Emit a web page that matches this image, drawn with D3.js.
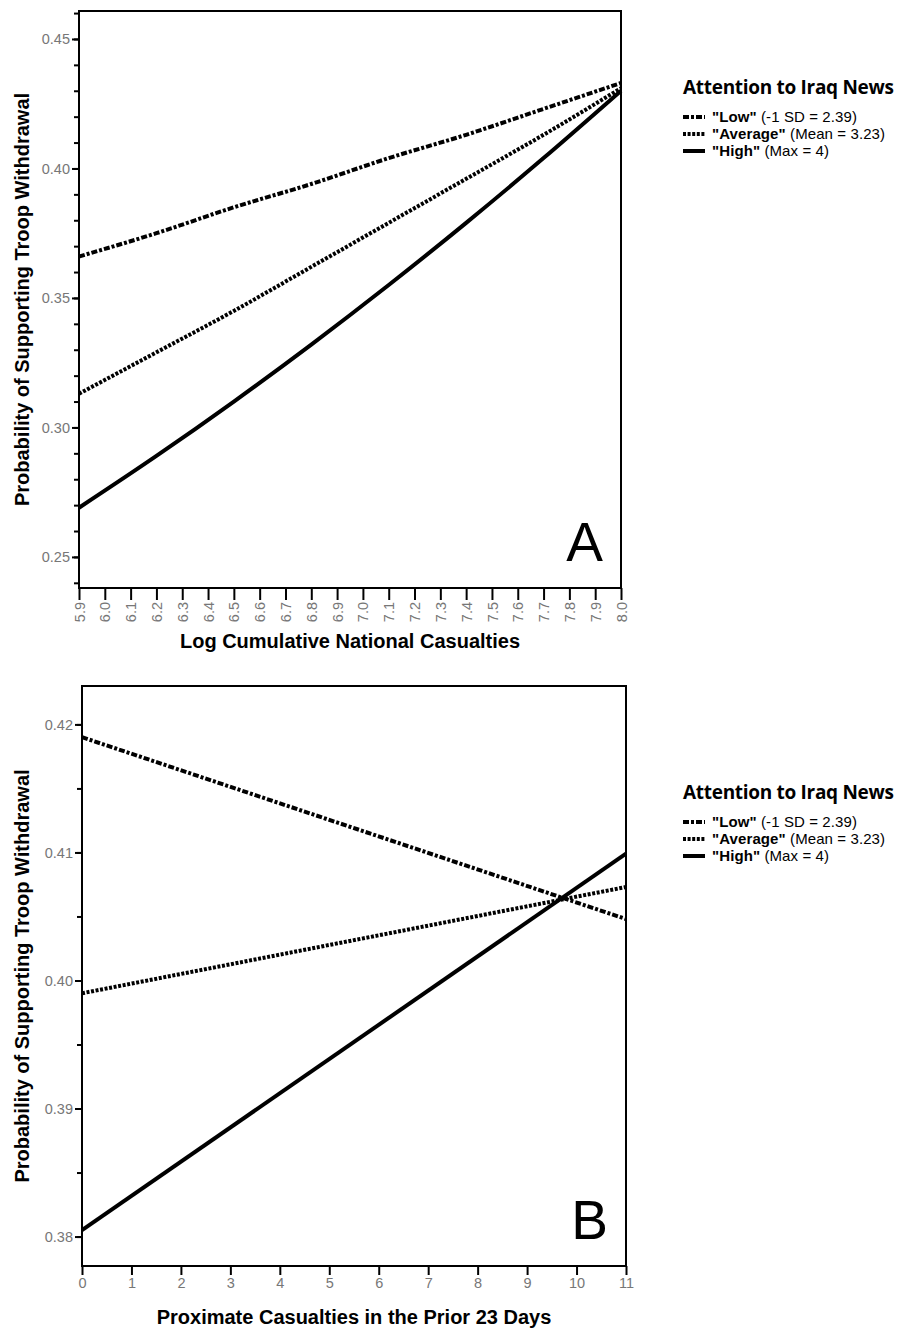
<!DOCTYPE html>
<html>
<head>
<meta charset="utf-8">
<script src="https://cdn.jsdelivr.net/npm/d3@7"></script>
<style>
  body { margin: 0; background: #fff; }
  svg { display: block; }
</style>
</head>
<body>
<div id="chart"></div>
<script>
// Panel A: log cumulative national casualties
var casualtiesA = [5.9, 6.2, 6.5, 6.8, 7.1, 7.4, 7.7, 8.0];
var lowA = [0.366, 0.375, 0.385, 0.394, 0.404, 0.413, 0.423, 0.433];
var averageA = [0.313, 0.329, 0.345, 0.362, 0.379, 0.396, 0.413, 0.431];
var highA = [0.269, 0.289, 0.310, 0.332, 0.355, 0.379, 0.404, 0.430];
var xTicksA = d3.range(59, 81).map(function (d) { return d / 10; });
var yTicksA = [0.25, 0.30, 0.35, 0.40, 0.45];

// Panel B: proximate casualties in the prior 23 days
var casualtiesB = [0, 11];
var lowB = [0.4190, 0.4048];
var averageB = [0.3990, 0.4073];
var highB = [0.3805, 0.4099];
var xTicksB = d3.range(0, 12);
var yTicksB = [0.38, 0.39, 0.40, 0.41, 0.42];

var legendTitle = "Attention to Iraq News";
var legendNames = ['"Low"', '"Average"', '"High"'];
var legendNotes = ['(-1 SD = 2.39)', '(Mean = 3.23)', '(Max = 4)'];
var yTitle = "Probability of Supporting Troop Withdrawal";

var dashes = ["6,2,3,2", "3,1.6", null];

var width = 913, height = 1331;
var svg = d3.select("#chart").append("svg").attr("width", width).attr("height", height);

var tickFont = "14.5px 'Liberation Sans', Arial, sans-serif";
var titleFont = "bold 20px 'Liberation Sans', Arial, sans-serif";

function drawPanel(opt) {
  var x = d3.scaleLinear().domain(opt.xDomain).range([opt.left, opt.right]);
  var y = d3.scaleLinear().domain(opt.yDomain).range([opt.bottom, opt.top]);
  var g = svg.append("g");

  // frame
  g.append("rect")
    .attr("x", opt.left).attr("y", opt.top)
    .attr("width", opt.right - opt.left).attr("height", opt.bottom - opt.top)
    .attr("fill", "none").attr("stroke", "#000").attr("stroke-width", 2);

  // y axis: minor ticks + labelled majors
  var yAxis = g.append("g").attr("transform", "translate(" + opt.left + ",0)")
    .call(d3.axisLeft(y).tickValues(opt.yMinor).tickSize(5).tickFormat(""));
  yAxis.select(".domain").remove();
  yAxis.selectAll("line").attr("stroke-width", 2);

  var yMajor = g.append("g").attr("transform", "translate(" + opt.left + ",0)")
    .call(d3.axisLeft(y).tickValues(opt.yTicks).tickSize(7).tickPadding(2).tickFormat(d3.format(".2f")));
  yMajor.select(".domain").remove();
  yMajor.selectAll("line").attr("stroke-width", 2);
  yMajor.selectAll("text").attr("fill", "#777").style("font", tickFont);

  // x axis
  var xAxis = g.append("g").attr("transform", "translate(0," + opt.bottom + ")")
    .call(d3.axisBottom(x).tickValues(opt.xTicks).tickSize(opt.xTickSize).tickFormat(opt.xFormat));
  xAxis.select(".domain").remove();
  xAxis.selectAll("line").attr("stroke-width", 2);
  var xt = xAxis.selectAll("text").attr("fill", "#777").style("font", tickFont);
  if (opt.rotateX) {
    xt.attr("transform", "rotate(-90)")
      .attr("x", -(opt.xTickSize + 2)).attr("y", 0).attr("dy", "0.35em")
      .attr("text-anchor", "end");
  }

  // series
  var line = d3.line()
    .x(function (d) { return x(d[0]); })
    .y(function (d) { return y(d[1]); })
    .curve(d3.curveMonotoneX);
  opt.series.forEach(function (s, i) {
    g.append("path")
      .datum(opt.xs.map(function (v, j) { return [v, s[j]]; }))
      .attr("d", line)
      .attr("fill", "none")
      .attr("stroke", "#000")
      .attr("stroke-width", 4)
      .attr("stroke-dasharray", dashes[i]);
  });

  // big panel letter
  g.append("text")
    .attr("x", opt.right - 18).attr("y", opt.bottom - 27)
    .attr("text-anchor", "end")
    .style("font", "55px 'Liberation Sans', Arial, sans-serif")
    .text(opt.letter);

  // axis titles
  g.append("text")
    .attr("x", (opt.left + opt.right) / 2).attr("y", opt.xTitleY)
    .attr("text-anchor", "middle")
    .style("font", titleFont)
    .text(opt.xTitle);
  g.append("text")
    .attr("transform", "translate(29," + ((opt.top + opt.bottom) / 2) + ") rotate(-90)")
    .attr("text-anchor", "middle")
    .style("font", titleFont)
    .text(yTitle);

  // legend
  var lg = svg.append("g").attr("transform", "translate(683," + opt.legendY + ")");
  lg.append("text")
    .style("font", "bold 19px 'Open Sans', sans-serif")
    .attr("letter-spacing", "-0.3")
    .text(legendTitle);
  legendNames.forEach(function (name, i) {
    var yy = 28 + i * 17;
    lg.append("line")
      .attr("x1", 0).attr("x2", 22).attr("y1", yy - 5).attr("y2", yy - 5)
      .attr("stroke", "#000").attr("stroke-width", 4)
      .attr("stroke-dasharray", dashes[i]);
    var t = lg.append("text").attr("x", 29).attr("y", yy)
      .style("font", "15px 'Liberation Sans', Arial, sans-serif")
      .attr("letter-spacing", "0.1");
    t.append("tspan").attr("font-weight", "bold").text(name + " ");
    t.append("tspan").text(legendNotes[i]);
  });
}

drawPanel({
  left: 79, right: 621, top: 11, bottom: 588,
  xDomain: [5.9, 8.0], yDomain: [0.238, 0.4608],
  xTicks: xTicksA, xTickSize: 12, rotateX: true, xFormat: d3.format(".1f"),
  yTicks: yTicksA, yMinor: d3.range(24, 47).map(function (d) { return d / 100; }),
  xs: casualtiesA, series: [lowA, averageA, highA],
  letter: "A", xTitle: "Log Cumulative National Casualties", xTitleY: 648,
  legendY: 94
});

drawPanel({
  left: 82, right: 626, top: 686, bottom: 1266,
  xDomain: [0, 11], yDomain: [0.3777, 0.4230],
  xTicks: xTicksB, xTickSize: 9, rotateX: false, xFormat: d3.format("d"),
  yTicks: yTicksB, yMinor: d3.range(0, 9).map(function (d) { return 0.38 + d * 0.005; }),
  xs: casualtiesB, series: [lowB, averageB, highB],
  letter: "B", xTitle: "Proximate Casualties in the Prior 23 Days", xTitleY: 1324,
  legendY: 799
});
</script>
</body>
</html>
